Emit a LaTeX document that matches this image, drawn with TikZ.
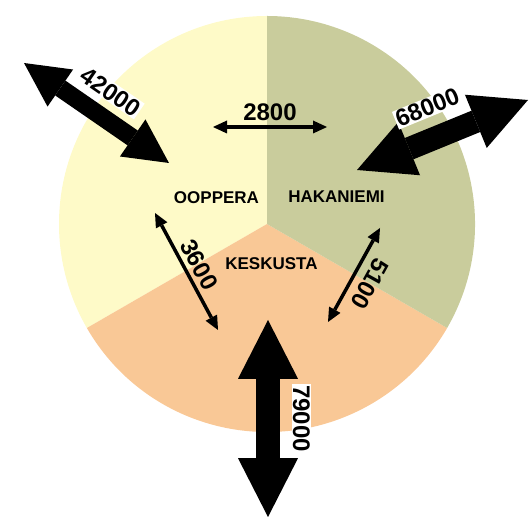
\documentclass[tikz,border=0pt]{standalone}
\usepackage{fontspec}
\setmainfont{Liberation Sans}
\usetikzlibrary{arrows.meta}
\definecolor{oopperacol}{HTML}{FEFAC8}
\definecolor{hakacol}{HTML}{C9CC9C}
\definecolor{keskcol}{HTML}{F9C896}
\begin{document}
\begin{tikzpicture}[x=1pt, y=1pt,
  station/.style={font=\fontsize{17}{17}\selectfont\bfseries},
  flow/.style={font=\fontsize{24}{24}\selectfont\bfseries, inner sep=1pt},
  flowbox/.style={flow, fill=white},
  thinflow/.style={line width=3.5pt,
    {Triangle[width=13pt,length=14pt,line width=0pt]}-{Triangle[width=13pt,length=14pt,line width=0pt]}},
  bigflow/.style={line width=#1,
    {Triangle[width=2.5*#1,length=2.45*#1,line width=0pt]}-{Triangle[width=2.5*#1,length=2.45*#1,line width=0pt]}}]
\useasboundingbox (0,0) rectangle (530,519);
% sectors
\coordinate (c) at (267,295);
\fill[oopperacol] (c) -- ++(90:208) arc (90:210:208) -- cycle;
\fill[keskcol] (c) -- ++(210:208) arc (210:330:208) -- cycle;
\fill[hakacol] (c) -- ++(330:208) arc (330:450:208) -- cycle;
% stations
\node[station] (ooppera) at (216.5,321) {OOPPERA};
\node[station] (hakaniemi) at (336.5,322) {HAKANIEMI};
\node[station] (keskusta) at (271.5,255) {KESKUSTA};
% arrow ends
\coordinate (oop-out) at (24,456);
\coordinate (oop-in) at (169,356);
\coordinate (hak-in) at (357,349);
\coordinate (hak-out) at (528,419);
\coordinate (kes-in) at (268,199);
\coordinate (kes-out) at (268,2);
\coordinate (oh-a) at (213,392);
\coordinate (oh-b) at (327,392);
\coordinate (ok-a) at (155,306);
\coordinate (ok-b) at (218,189);
\coordinate (hk-a) at (380,291);
\coordinate (hk-b) at (328,197);
% external flows
\draw[bigflow=18pt] (oop-out) -- (oop-in)
  node[flowbox, midway, sloped, above=7pt] {42000};
\draw[bigflow=23pt] (hak-in) -- (hak-out)
  node[flowbox, pos=0.48, sloped, above=10pt] {68000};
\draw[bigflow=24pt] (kes-in) -- (kes-out)
  node[flowbox, midway, sloped, above=12pt] {79000};
% internal flows
\draw[thinflow] (oh-a) -- (oh-b) node[flow, midway, above=4pt] {2800};
\draw[thinflow] (ok-a) -- (ok-b) node[flow, midway, sloped, above=3pt] {3600};
\draw[thinflow] (hk-a) -- (hk-b)
  node[flow, midway, sloped, allow upside down, above=7pt] {5100};
\end{tikzpicture}
\end{document}
